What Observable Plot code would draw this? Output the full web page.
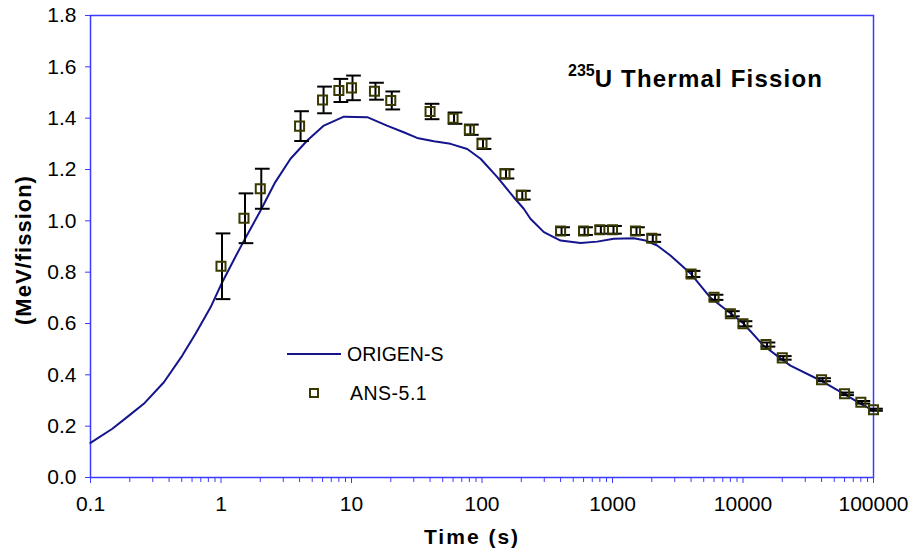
<!DOCTYPE html>
<html><head><meta charset="utf-8">
<script src="https://cdn.jsdelivr.net/npm/d3@7"></script>
<script src="https://cdn.jsdelivr.net/npm/@observablehq/plot@0.6"></script>
<style>
body{margin:0;background:#fff;}
#chart svg{font-family:"Liberation Sans",Arial,sans-serif;}
</style></head><body><div id="chart"></div>
<script>
// ORIGEN-S calculated curve
const origenT = [0.1,0.147,0.196,0.256,0.365,0.505,0.638,0.832,1.02,1.29,1.49,2.01,2.6,3.41,4.58,6.14,8.74,13.2,18.7,25.1,31.8,42.8,57.4,77.1,97.5,131,175,209,235,298,400,569,763,1023,1456,1790,2200,2780,3963,5640,8020,10090,14360,19370,23100,39260,58900,79400,100000];
const origenE = [0.135,0.19,0.24,0.287,0.371,0.475,0.56,0.663,0.76,0.86,0.92,1.04,1.15,1.242,1.313,1.371,1.406,1.404,1.371,1.345,1.323,1.31,1.30,1.28,1.242,1.17,1.092,1.047,1.008,0.956,0.923,0.914,0.919,0.93,0.932,0.923,0.904,0.865,0.795,0.70,0.64,0.60,0.514,0.464,0.436,0.378,0.327,0.288,0.261];
// ANS-5.1 standard values with uncertainty (half-width)
const ansT = [1,1.5,2,4,6,8,10,15,20,40,60,80,100,150,200,400,600,800,1000,1500,2000,4000,6000,8000,10000,15000,20000,40000,60000,80000,100000];
const ansE = [0.823,1.01,1.125,1.369,1.471,1.508,1.518,1.505,1.469,1.426,1.40,1.355,1.30,1.183,1.10,0.96,0.96,0.965,0.965,0.96,0.932,0.793,0.702,0.638,0.599,0.518,0.466,0.381,0.326,0.293,0.264];
const ansErr = [0.128,0.097,0.078,0.058,0.052,0.045,0.048,0.033,0.035,0.03,0.022,0.02,0.02,0.018,0.017,0.015,0.015,0.015,0.015,0.015,0.014,0.012,0.01,0.01,0.01,0.008,0.007,0.006,0.005,0.005,0.004];
// axis ticks
const xTickValues = [0.1,1,10,100,1000,10000,100000];
const yTickValues = [0,0.2,0.4,0.6,0.8,1.0,1.2,1.4,1.6,1.8];
const seriesNames = ["ORIGEN-S","ANS-5.1"];
const xLabel = "Time (s)";
const yLabel = "(MeV/fission)";

const origen = origenT.map((t,i)=>({t, e: origenE[i]}));
const ans = ansT.map((t,i)=>({t, e: ansE[i], lo: ansE[i]-ansErr[i], hi: ansE[i]+ansErr[i]}));
const xMinor = [];
for (let i = 0; i < xTickValues.length - 1; i++) for (let k = 2; k <= 9; k++) xMinor.push(xTickValues[i]*k);

const blue = "#3b3bff";
const lineColor = "#14148c";
const markColor = "#3a3a00";
const capSymbol = {draw(ctx, size){ const w = Math.sqrt(size)/2; ctx.moveTo(-w,0); ctx.lineTo(w,0); }};

const plot = Plot.plot({
  width: 910, height: 552,
  marginLeft: 90, marginRight: 37, marginTop: 15, marginBottom: 75,
  style: {fontFamily: "Liberation Sans, Arial, sans-serif", fontSize: "21px", background: "white", color: "black", overflow: "visible"},
  x: {type: "log", domain: [0.1, 100000]},
  y: {domain: [0, 1.8]},
  marks: [
    Plot.axisX({ticks: xMinor, tickSize: 5, stroke: blue, tickFormat: () => "", label: null}),
    Plot.axisX({ticks: xTickValues, tickSize: 6, tickPadding: 13, stroke: blue, tickFormat: d => String(d), label: null}),
    Plot.axisY({ticks: yTickValues, tickSize: 5, tickPadding: 9, stroke: blue, tickFormat: d3.format(".1f"), label: null}),
    Plot.frame({stroke: blue, strokeWidth: 1.5}),
    Plot.line(origen, {x: "t", y: "e", stroke: lineColor, strokeWidth: 2}),
    Plot.ruleX(ans, {x: "t", y1: "lo", y2: "hi", stroke: "black", strokeWidth: 2, dx: 1}),
    Plot.dot(ans, {x: "t", y: "hi", symbol: capSymbol, r: 8.3, stroke: "black", strokeWidth: 2, dx: 2}),
    Plot.dot(ans, {x: "t", y: "lo", symbol: capSymbol, r: 8.3, stroke: "black", strokeWidth: 2, dx: 2}),
    Plot.dot(ans, {x: "t", y: "e", symbol: "square", r: 5.1, stroke: markColor, strokeWidth: 2, fill: "none"})
  ]
});
document.getElementById("chart").appendChild(plot);

const svg = d3.select(plot);
const ff = "Liberation Sans, Arial, sans-serif";
const g = svg.append("g").attr("text-anchor","start").attr("font-family",ff);
// legend
g.append("line").attr("x1",287).attr("x2",341).attr("y1",354).attr("y2",354).attr("stroke",lineColor).attr("stroke-width",2);
g.append("text").attr("x",347).attr("y",354).attr("dy","0.35em").attr("font-size",19.5).text(seriesNames[0]);
g.append("rect").attr("x",310).attr("y",389).attr("width",8).attr("height",8).attr("fill","none").attr("stroke",markColor).attr("stroke-width",2);
g.append("text").attr("x",350).attr("y",393).attr("dy","0.35em").attr("font-size",19.5).attr("letter-spacing","0.5px").text(seriesNames[1]);
// title
const title = g.append("text").attr("x",568).attr("y",87).attr("font-weight","bold").attr("letter-spacing","1.2px");
title.append("tspan").attr("font-size",16).attr("dy",-11).attr("letter-spacing","0px").text("235");
title.append("tspan").attr("font-size",24).attr("dy",11).text("U Thermal Fission");
// axis titles
g.append("text").attr("x",472).attr("y",537).attr("dy","0.35em").attr("text-anchor","middle").attr("font-weight","bold").attr("font-size",21).attr("letter-spacing","2px").text(xLabel);
g.append("text").attr("transform","translate(23,250) rotate(-90)").attr("dy","0.35em").attr("text-anchor","middle").attr("font-weight","bold").attr("font-size",22).attr("letter-spacing","1px").text(yLabel);
</script></body></html>
